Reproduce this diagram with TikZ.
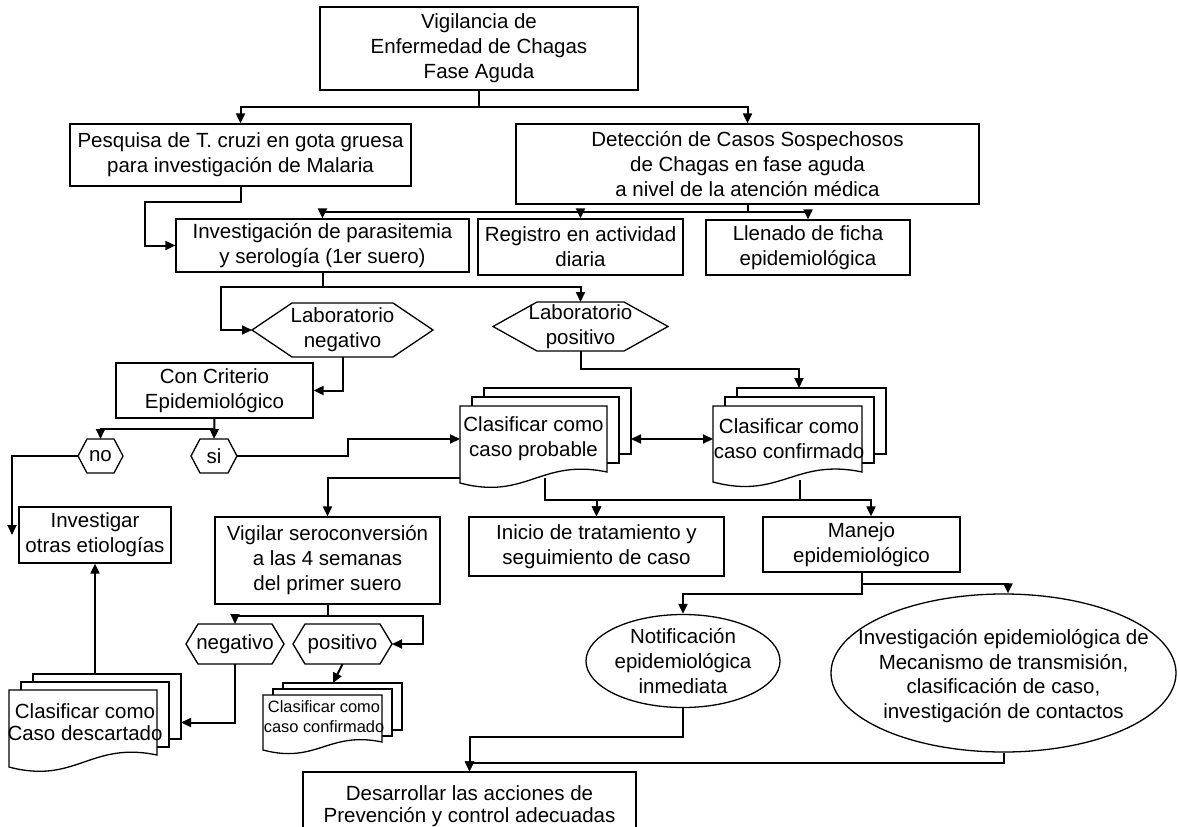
\documentclass[tikz,border=0pt]{standalone}
\usepackage{fontspec}
\setmainfont{Liberation Sans}
\usetikzlibrary{arrows.meta,shapes.geometric}
\tikzset{
 boxline/.style={draw=black, line width=1.3pt, fill=white, line join=miter},
 box/.style={rectangle, draw=black, line width=1.3pt, align=center, inner sep=0pt, font=\fontsize{20.5}{25}\selectfont},
 txt/.style={align=center, inner sep=0pt, font=\fontsize{20.5}{25}\selectfont},
 smalltxt/.style={align=center, inner sep=0pt, font=\fontsize{16.4}{20}\selectfont},
 shapenode/.style={rectangle, inner sep=0pt, outer sep=0pt},
 ell/.style={ellipse, draw=black, line width=1.3pt, inner sep=0pt},
 arr/.style={line width=2pt, -{Triangle[length=10pt,width=9pt]}},
 dbl/.style={line width=2pt, {Triangle[length=10pt,width=9pt]}-{Triangle[length=10pt,width=9pt]}},
}
\newcommand\hexa[6]{%
 \draw[boxline] ({#2-#4/2},#3) -- ({#2-#4/2+#6},{#3-#5/2}) -- ({#2+#4/2-#6},{#3-#5/2}) -- ({#2+#4/2},#3) -- ({#2+#4/2-#6},{#3+#5/2}) -- ({#2-#4/2+#6},{#3+#5/2}) -- cycle;
 \node[shapenode, minimum width=#4pt, minimum height=#5pt] (#1) at (#2,#3) {};}
\newcommand\mdoc[8]{%
 \draw[boxline] ({#2+2*#6},{#3-2*#7}) rectangle ({#2+#4+2*#6},{#5-2*#7});
 \draw[boxline] ({#2+#6},{#3-#7}) rectangle ({#2+#4+#6},{#5-#7});
 \draw[boxline] (#2,#3) -- ({#2+#4},#3) -- ({#2+#4},#5) .. controls ({#2+0.55*#4},{#5-0.095*#4}) and ({#2+0.45*#4},{#5+#8+0.12*#4}) .. (#2,{#5+#8}) -- cycle;
 \node[shapenode, minimum width=#4pt, minimum height={#5pt-#3pt}] (#1) at ({#2+#4/2},{(#3+#5)/2}) {};}
\begin{document}
\begin{tikzpicture}[x=1pt,y=-1pt]
\useasboundingbox (0,0) rectangle (1178,827);
\clip (0,0) rectangle (1178,827);

% boxes
\node[box, minimum width=318pt, minimum height=83pt] (topbox) at (479,48.5) {Vigilancia de\\Enfermedad de Chagas\\Fase Aguda};
\node[box, minimum width=341pt, minimum height=62pt] (pesq) at (240.5,155) {Pesquisa de T. cruzi en gota gruesa\\para investigación de Malaria};
\node[box, minimum width=463pt, minimum height=80pt] (detec) at (747.5,164) {Detección de Casos Sospechosos\\de Chagas en fase aguda\\a nivel de la atención médica};
\node[box, minimum width=293pt, minimum height=53pt] (invp) at (322.5,245.5) {Investigación de parasitemia\\y serología (1er suero)};
\node[box, minimum width=205pt, minimum height=56pt] (regis) at (580.5,247) {Registro en actividad\\diaria};
\node[box, minimum width=204pt, minimum height=55pt] (llen) at (808,247.5) {Llenado de ficha\\epidemiológica};

\hexa{labneg}{342.5}{330}{181}{54}{40}
\node[txt] (labnegt) at (342.5,330) {Laboratorio\\negativo};
\hexa{labpos}{580.5}{326.5}{175}{49}{44}
\node[txt] (labpost) at (580.5,326.5) {Laboratorio\\positivo};

\node[box, minimum width=197pt, minimum height=55pt] (concrit) at (214.5,390.5) {Con Criterio\\Epidemiológico};
\hexa{nonode}{100.5}{456}{45}{34}{9}
\node[txt] (nonodet) at (100.5,456) {no};
\hexa{sinode}{214}{456}{46}{34}{9}
\node[txt] (sinodet) at (214,456) {si};

\node[box, minimum width=152pt, minimum height=56pt] (invot) at (95,535) {Investigar\\otras etiologías};
\node[box, minimum width=225pt, minimum height=87pt] (vigil) at (327.5,560.5) {Vigilar seroconversión\\a las 4 semanas\\del primer suero};
\node[box, minimum width=255pt, minimum height=59pt] (inicio) at (596.5,546.5) {Inicio de tratamiento y\\seguimiento de caso};
\node[box, minimum width=197pt, minimum height=55pt] (manejo) at (861.5,544.5) {Manejo\\epidemiológico};

\hexa{negat}{235}{644}{98}{40}{12}
\node[txt] (negatt) at (235,644) {negativo};
\hexa{posit}{342.5}{644}{99}{40}{12}
\node[txt] (positt) at (342.5,644) {positivo};

% multi-documents
\mdoc{prob}{460}{406}{147}{472}{12}{9}{11}
\node[txt] (probt) at (533.5,439) {Clasificar como\\caso probable};
\mdoc{conf}{713}{406}{149}{472}{12}{9}{10}
\node[txt] (conft) at (789,439) {Clasificar como\\caso confirmado};
\mdoc{desc}{9}{690}{148}{755}{12}{8}{12}
\node[txt, font=\fontsize{20.5}{22}\selectfont] (desct) at (85,722.5) {Clasificar como\\Caso descartado};
\mdoc{small}{263}{695}{119}{742}{10}{6}{8}
\node[smalltxt] (smallt) at (324,717) {Clasificar como\\caso confirmado};

% ellipses
\node[ell, minimum width=194pt, minimum height=93pt] (notif) at (683,661) {};
\node[txt] (notift) at (683,661) {Notificación\\epidemiológica\\inmediata};
\node[ell, minimum width=345pt, minimum height=158pt] (inve) at (1003.5,673) {};
\node[txt, font=\fontsize{20.5}{24.5}\selectfont] (invet) at (1003.5,676) {Investigación epidemiológica de\\Mecanismo de transmisión,\\clasificación de caso,\\investigación de contactos};

\node[box, minimum width=333pt, minimum height=68pt, font=\fontsize{20.5}{22}\selectfont] (desar) at (469.5,806) {Desarrollar las acciones de\\Prevención y control adecuadas};

% connectors
\coordinate (j1) at (479,107);
\draw[arr] (topbox.south) -- (j1) -| (pesq.north);
\draw[arr] (j1) -| (detec.north);

\draw[arr] (pesq.south) -- (240.5,202) -- (145,202) |- (invp.west);

\coordinate (j2) at (747.5,212);
\draw[arr] (detec.south) -- (j2) -| (invp.north);
\draw[arr] (j2) -| (regis.north);
\draw[arr] (j2) -| (llen.north);

\coordinate (j3) at (322.5,287);
\draw[arr] (invp.south) -- (j3) -- (221,287) |- (labneg.west);
\draw[arr] (j3) -| (labpos.north);

\draw[arr] (labneg.south) |- (concrit.east);

\coordinate (confback) at (799,388);
\draw[arr] (labpos.south) -- (580.5,369) -| (confback);

\coordinate (j4) at (214.5,429);
\draw[arr] (concrit.south) -- (sinode.north);
\draw[arr] (j4) -| (nonode.north);

\coordinate (invotl) at (12,535);
\draw[arr] (nonode.west) -| (invotl);

\draw[arr] (sinode.east) -- (348,456) |- (prob.west);

\draw[arr] (prob.south west) ++(0,6) -| (vigil.north);

\draw[dbl] ([xshift=24pt]prob.east) -- (conf.west);

\draw[arr] ([xshift=11.5pt,yshift=-6pt]prob.south) -- ++(0,22) -| (inicio.north);
\draw[arr] ([xshift=12.5pt,yshift=-8pt]conf.south) -- ++(0,20) -| (inicio.north);
\draw[arr] ([xshift=12.5pt,yshift=-8pt]conf.south) -- ++(0,20) -| ([xshift=9.5pt]manejo.north);

\draw[arr] (manejo.south) -- ++(0,11) -| ([xshift=4.5pt]inve.north);
\draw[arr] (manejo.south) -- ++(0,21) -| (notif.north);

\draw[arr] (notif.south) -- ++(0,29) -| (desar.north);
\draw[arr] (inve.south) -- ++(0,10) -| (desar.north);

\coordinate (j5) at (327.5,616);
\draw[arr] (vigil.south) -- (j5) -| (negat.north);
\draw[arr] (j5) -- (423,616) |- (posit.east);

\draw[arr] (negat.south) |- ([xshift=24pt]desc.east);
\draw[arr] (posit.south) -- ([xshift=10.5pt,yshift=12pt]small.north);
\draw[arr] ([xshift=12pt,yshift=16pt]desc.north) -- (invot.south);
\end{tikzpicture}
\end{document}
